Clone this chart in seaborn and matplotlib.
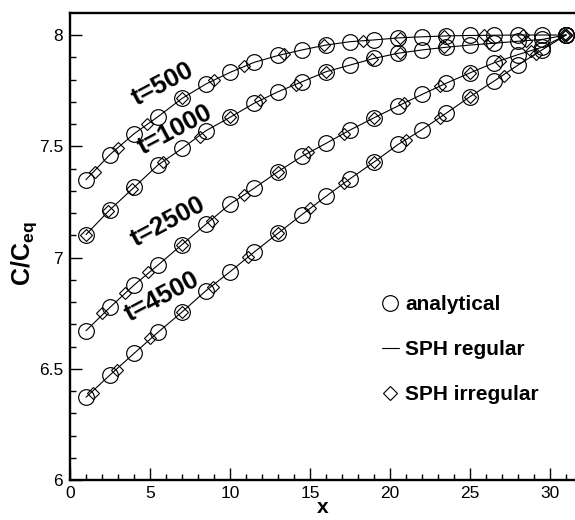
import matplotlib
matplotlib.use("Agg")
import matplotlib.pyplot as plt
from matplotlib.lines import Line2D
from matplotlib.ticker import MultipleLocator
import numpy as np
import pandas as pd
import seaborn as sns

# ---------------- data ----------------
times = ["t=500", "t=1000", "t=2500", "t=4500"]

x_analytical = [1, 2.5, 4, 5.5, 7, 8.5, 10, 11.5, 13, 14.5, 16, 17.5, 19,
                20.5, 22, 23.5, 25, 26.5, 28, 29.5, 31]

c_t500 = [7.350, 7.463, 7.556, 7.633, 7.715, 7.780, 7.832, 7.877, 7.908, 7.933,
          7.955, 7.970, 7.978, 7.987, 7.992, 7.996, 7.998, 7.999, 8.000, 8.000, 8.000]
c_t1000 = [7.103, 7.215, 7.315, 7.416, 7.490, 7.570, 7.630, 7.693, 7.745, 7.790,
           7.835, 7.865, 7.895, 7.918, 7.933, 7.945, 7.955, 7.963, 7.972, 7.980, 8.000]
c_t2500 = [6.671, 6.776, 6.876, 6.966, 7.058, 7.150, 7.240, 7.311, 7.386, 7.455,
           7.513, 7.573, 7.628, 7.681, 7.733, 7.783, 7.830, 7.875, 7.912, 7.945, 8.000]
c_t4500 = [6.372, 6.472, 6.569, 6.664, 6.755, 6.851, 6.936, 7.024, 7.109, 7.193,
           7.275, 7.354, 7.429, 7.508, 7.575, 7.648, 7.723, 7.793, 7.865, 7.933, 8.000]

# SPH irregular particles (diamonds)
x_irr_t500 = [1.56, 3.0, 4.8, 7.0, 9.0, 10.9, 13.4, 15.9, 18.3, 20.6, 23.4, 25.9, 28.3, 30.9]
c_irr_t500 = [7.386, 7.493, 7.600, 7.715, 7.800, 7.862, 7.915, 7.953, 7.975, 7.988,
              7.996, 7.999, 8.000, 8.000]
x_irr_t1000 = [1.0, 2.4, 3.9, 5.8, 8.1, 10.0, 11.9, 14.1, 16.0, 18.9, 20.6, 23.4, 26.2, 28.5, 31.0]
c_irr_t1000 = [7.103, 7.210, 7.310, 7.430, 7.543, 7.630, 7.708, 7.775, 7.835, 7.893,
               7.920, 7.945, 7.962, 7.975, 8.000]
x_irr_t2500 = [1.98, 3.44, 4.9, 7.0, 8.85, 10.9, 13.0, 14.9, 17.1, 19.0, 20.9, 23.1, 25.0, 26.9, 28.8, 31.0]
c_irr_t2500 = [6.749, 6.839, 6.935, 7.058, 7.165, 7.281, 7.386, 7.475, 7.555, 7.628,
               7.695, 7.770, 7.830, 7.885, 7.930, 8.000]
x_irr_t4500 = [1.46, 2.92, 5.0, 7.0, 8.96, 11.15, 13.0, 15.0, 17.1, 19.0, 21.0, 23.1, 25.0, 27.1, 29.1, 31.0]
c_irr_t4500 = [6.390, 6.494, 6.637, 6.755, 6.869, 7.003, 7.109, 7.221, 7.333, 7.429,
               7.528, 7.626, 7.723, 7.815, 7.915, 8.000]

x_ticks = [0, 5, 10, 15, 20, 25, 30]
y_ticks = [6, 6.5, 7, 7.5, 8]
y_tick_labels = ["6", "6.5", "7", "7.5", "8"]

legend_labels = ["analytical", "SPH regular", "SPH irregular"]
curve_labels = times
label_pos_x = [5.81, 6.56, 6.12, 5.78]
label_pos_y = [7.780, 7.574, 7.160, 6.824]

# ---------------- tables ----------------
analytical = pd.concat([
    pd.DataFrame({"x": x_analytical, "c": c, "time": t})
    for t, c in zip(times, [c_t500, c_t1000, c_t2500, c_t4500])
], ignore_index=True)

irregular = pd.concat([
    pd.DataFrame({"x": xs, "c": cs, "time": t})
    for t, xs, cs in zip(times,
                         [x_irr_t500, x_irr_t1000, x_irr_t2500, x_irr_t4500],
                         [c_irr_t500, c_irr_t1000, c_irr_t2500, c_irr_t4500])
], ignore_index=True)

# ---------------- style ----------------
sns.set_theme(style="white")
plt.rcParams["font.family"] = ["Liberation Sans", "DejaVu Sans"]
plt.rcParams["mathtext.fontset"] = "custom"
plt.rcParams["mathtext.rm"] = "Liberation Sans"
plt.rcParams["mathtext.bf"] = "Liberation Sans:bold"
plt.rcParams["mathtext.it"] = "Liberation Sans:italic"
for key in ["text.color", "axes.labelcolor", "xtick.color", "ytick.color", "axes.edgecolor"]:
    plt.rcParams[key] = "black"

DPI = 100
fig = plt.figure(figsize=(5.75, 5.2), dpi=DPI)
ax = fig.add_axes([70 / 575, 40 / 520, 505 / 575, 467 / 520])

# analytical: hollow circles
sns.lineplot(data=analytical, x="x", y="c", units="time", estimator=None, sort=False,
             ax=ax, color="black", linestyle="none", marker="o", markersize=11.3,
             markerfacecolor="none", markeredgecolor="black", markeredgewidth=0.85)
# SPH regular: thin solid line
sns.lineplot(data=analytical, x="x", y="c", units="time", estimator=None, sort=False,
             ax=ax, color="black", linewidth=0.8)
# SPH irregular: hollow diamonds
sns.lineplot(data=irregular, x="x", y="c", units="time", estimator=None, sort=False,
             ax=ax, color="black", linestyle="none", marker="D", markersize=6.6,
             markerfacecolor="none", markeredgecolor="black", markeredgewidth=0.8)

ax.set_xlim(0, 31.56)
ax.set_ylim(6, 8.099)

ax.set_xticks(x_ticks)
ax.set_yticks(y_ticks)
ax.set_yticklabels(y_tick_labels)
ax.xaxis.set_minor_locator(MultipleLocator(1))
ax.yaxis.set_minor_locator(MultipleLocator(0.1))
ax.tick_params(which="both", direction="in", top=False, right=False,
               bottom=True, left=True, width=1.0, color="black", labelcolor="black")
ax.tick_params(which="major", length=8.5, labelsize=12.5, pad=4)
ax.tick_params(which="minor", length=4.5)
ax.tick_params(axis="y", which="major", pad=5)

for side in ["left", "bottom", "top"]:
    ax.spines[side].set_linewidth(1.7)
    ax.spines[side].set_color("black")
ax.spines["right"].set_visible(False)

ax.set_xlabel("x", fontsize=15, fontweight="bold", labelpad=-2, color="black")
ax.set_ylabel(r"$\mathbf{C/C_{eq}}$", fontsize=18, labelpad=2, color="black")
ax.yaxis.set_label_coords(-0.062, 0.485)

for lab, lx, ly in zip(curve_labels, label_pos_x, label_pos_y):
    ax.text(lx, ly, lab, fontsize=18.5, fontweight="bold", rotation=28,
            ha="center", va="center", color="black")

handles = [
    Line2D([], [], linestyle="none", marker="o", markersize=11.3,
           markerfacecolor="none", markeredgecolor="black", markeredgewidth=0.85),
    Line2D([], [], color="black", linewidth=0.8),
    Line2D([], [], linestyle="none", marker="D", markersize=7.0,
           markerfacecolor="none", markeredgecolor="black", markeredgewidth=0.8),
]
leg = ax.legend(handles, legend_labels, loc="upper left",
                bbox_to_anchor=((382 - 70) / 505, (480 - 295) / 467),
                frameon=False, borderpad=0, borderaxespad=0,
                handlelength=0.8, handletextpad=0.3, labelspacing=1.25,
                prop={"family": "Liberation Sans", "weight": "bold", "size": 15})
for txt in leg.get_texts():
    txt.set_color("black")

fig.savefig("out.png", dpi=DPI)
